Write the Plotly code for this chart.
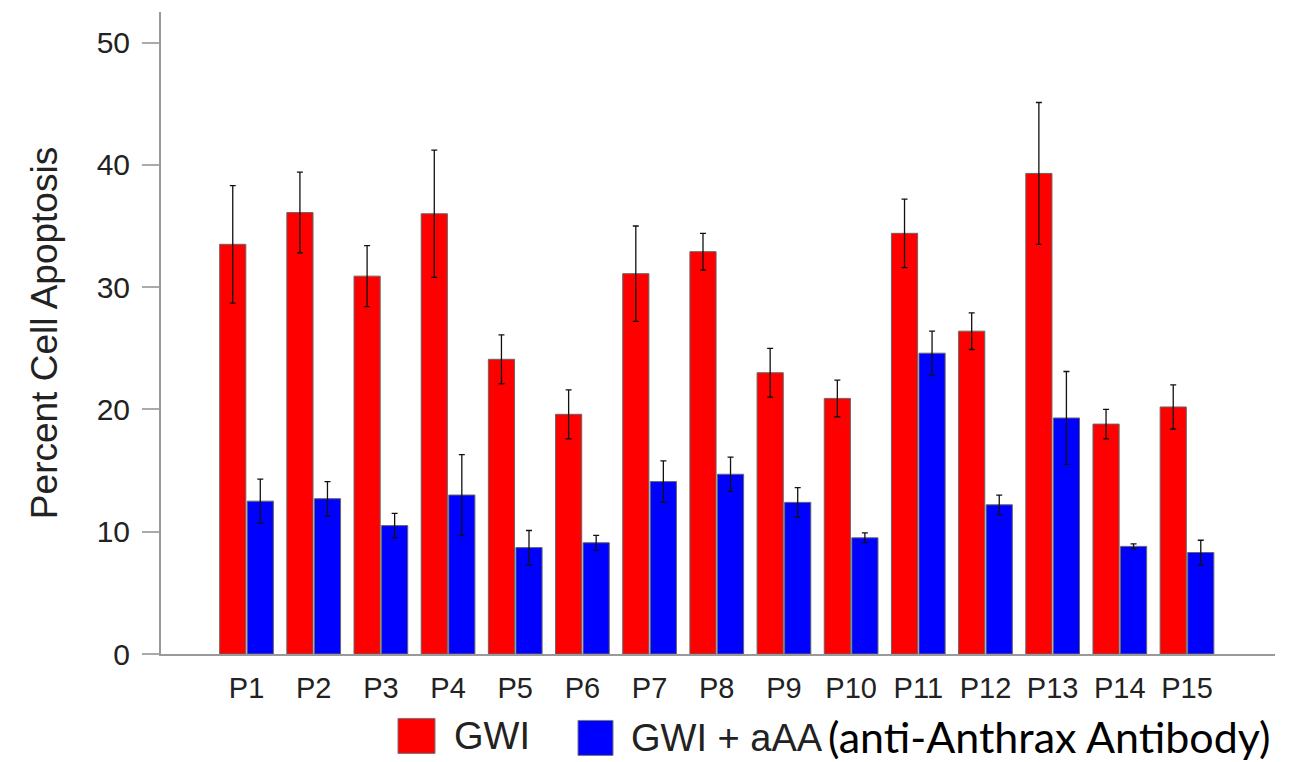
import plotly.graph_objects as go

categories = ["P1","P2","P3","P4","P5","P6","P7","P8","P9","P10","P11","P12","P13","P14","P15"]
gwi = [33.5, 36.1, 30.9, 36.0, 24.1, 19.6, 31.1, 32.9, 23.0, 20.9, 34.4, 26.4, 39.3, 18.8, 20.2]
gwi_err = [4.8, 3.3, 2.5, 5.2, 2.0, 2.0, 3.9, 1.5, 2.0, 1.5, 2.8, 1.5, 5.8, 1.2, 1.8]
aaa = [12.5, 12.7, 10.5, 13.0, 8.7, 9.1, 14.1, 14.7, 12.4, 9.5, 24.6, 12.2, 19.3, 8.8, 8.3]
aaa_err = [1.8, 1.4, 1.0, 3.3, 1.4, 0.6, 1.7, 1.4, 1.2, 0.4, 1.8, 0.8, 3.8, 0.2, 1.0]
yticks = [0, 10, 20, 30, 40, 50]

# page body has an 8px margin; figure laid out to fill the 1301x762 window
W, H = 1293, 754
L, R, T, B = 153, 26, 4, 107.5
PW, PH = W - L - R, H - T - B

def px(xpage):
    return (xpage - 8 - L) / PW

def py(ypage):
    return 1 - (ypage - 8 - T) / PH

fig = go.Figure()
fig.add_trace(go.Bar(
    x=categories, y=gwi, name="GWI",
    marker=dict(color="#FF0000", line=dict(color="#666666", width=1)),
    error_y=dict(type="data", array=gwi_err, color="#111111", thickness=1.3, width=3),
))
fig.add_trace(go.Bar(
    x=categories, y=aaa, name="GWI + aAA",
    marker=dict(color="#0000FF", line=dict(color="#666666", width=1)),
    error_y=dict(type="data", array=aaa_err, color="#111111", thickness=1.3, width=3),
))

fig.update_layout(
    width=W, height=H,
    margin=dict(l=L, r=R, t=T, b=B),
    paper_bgcolor="white", plot_bgcolor="white",
    barmode="group", bargap=0.18, bargroupgap=0.05,
    showlegend=False,
    font=dict(family="Liberation Sans, Arial, sans-serif", color="#222222"),
)
fig.update_xaxes(
    range=[-1.273, 15.31], showgrid=False, showline=True, linecolor="#999999", linewidth=2,
    ticks="", ticklabelstandoff=7, tickfont=dict(size=29, color="#222222"), zeroline=False,
)
fig.update_yaxes(
    range=[0, 52.5], tickvals=yticks, showgrid=False, showline=True, linecolor="#999999",
    linewidth=2, ticks="outside", ticklen=17, tickcolor="#aaaaaa", tickwidth=2,
    ticklabelstandoff=6,
    tickfont=dict(size=30, color="#222222"), zeroline=False,
    title=dict(text="Percent Cell Apoptosis", font=dict(size=37, color="#222222"), standoff=28),
)

# legend drawn manually to match the large swatches
fig.add_shape(type="rect", xref="paper", yref="paper",
              x0=px(398), x1=px(435), y0=py(719), y1=py(754),
              fillcolor="#FF0000", line=dict(color="#777777", width=1))
fig.add_shape(type="rect", xref="paper", yref="paper",
              x0=px(578), x1=px(613), y0=py(721), y1=py(756),
              fillcolor="#0000FF", line=dict(color="#777777", width=1))
fig.add_annotation(xref="paper", yref="paper", x=px(452), y=py(737),
                   text="GWI", showarrow=False, xanchor="left", yanchor="middle",
                   font=dict(size=38, color="#222222", family="Liberation Sans, Arial"))
fig.add_annotation(xref="paper", yref="paper", x=px(629), y=py(739),
                   text="GWI + aAA", showarrow=False, xanchor="left", yanchor="middle",
                   font=dict(size=38, color="#222222", family="Liberation Sans, Arial"))
fig.add_annotation(xref="paper", yref="paper", x=px(826), y=py(737),
                   text="(anti-Anthrax Antibody)", showarrow=False, xanchor="left", yanchor="middle",
                   font=dict(size=43, color="#000000", family="Lato, Open Sans, sans-serif"))

fig.write_html("out.html")
